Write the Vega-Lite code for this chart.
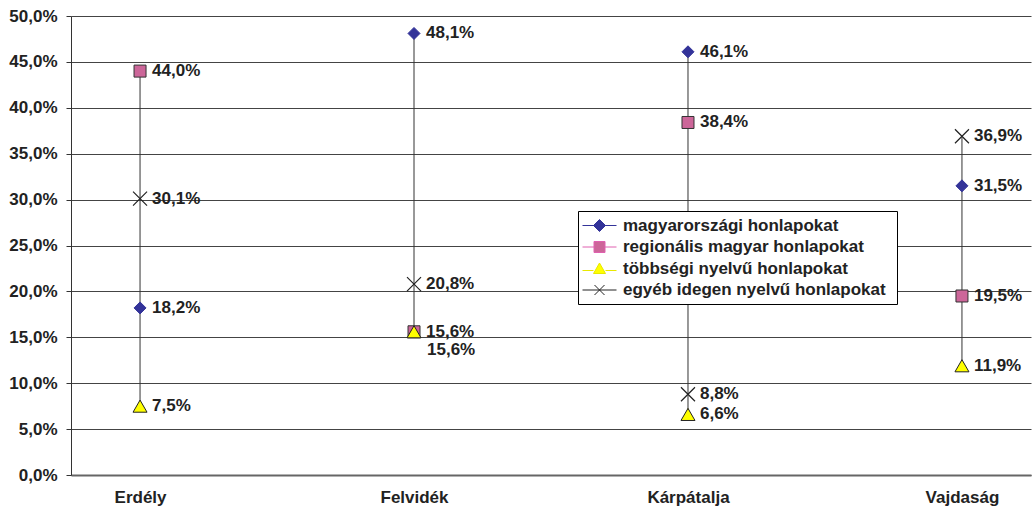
{
  "$schema": "https://vega.github.io/schema/vega-lite/v6.json",
  "width": 960,
  "height": 459,
  "autosize": {"type": "none"},
  "padding": {"left": 71, "top": 16, "right": 1, "bottom": 32},
  "background": "white",
  "config": {
    "locale": {"number": {"decimal": ",", "thousands": " ", "grouping": [3], "currency": ["", " Ft"]}},
    "view": {"stroke": null},
    "font": "Liberation Sans"
  },
  "data": {
    "values": [
      {"region": "Erdély", "series": "magyarországi honlapokat", "v": 0.182},
      {"region": "Erdély", "series": "regionális magyar honlapokat", "v": 0.440},
      {"region": "Erdély", "series": "többségi nyelvű honlapokat", "v": 0.075},
      {"region": "Erdély", "series": "egyéb idegen nyelvű  honlapokat", "v": 0.301},
      {"region": "Felvidék", "series": "magyarországi honlapokat", "v": 0.481},
      {"region": "Felvidék", "series": "regionális magyar honlapokat", "v": 0.156},
      {"region": "Felvidék", "series": "többségi nyelvű honlapokat", "v": 0.156},
      {"region": "Felvidék", "series": "egyéb idegen nyelvű  honlapokat", "v": 0.208},
      {"region": "Kárpátalja", "series": "magyarországi honlapokat", "v": 0.461},
      {"region": "Kárpátalja", "series": "regionális magyar honlapokat", "v": 0.384},
      {"region": "Kárpátalja", "series": "többségi nyelvű honlapokat", "v": 0.066},
      {"region": "Kárpátalja", "series": "egyéb idegen nyelvű  honlapokat", "v": 0.088},
      {"region": "Vajdaság", "series": "magyarországi honlapokat", "v": 0.315},
      {"region": "Vajdaság", "series": "regionális magyar honlapokat", "v": 0.195},
      {"region": "Vajdaság", "series": "többségi nyelvű honlapokat", "v": 0.119},
      {"region": "Vajdaság", "series": "egyéb idegen nyelvű  honlapokat", "v": 0.369}
    ]
  },
  "encoding": {
    "x": {
      "field": "region", "type": "nominal", "sort": null,
      "scale": {"type": "point", "padding": 0.252},
      "axis": {
        "title": null, "labelAngle": 0, "ticks": false, "grid": false,
        "domainColor": "#666", "domainWidth": 2,
        "labelFont": "Liberation Sans", "labelFontSize": 17, "labelFontWeight": "bold",
        "labelColor": "#222", "labelPadding": 14
      }
    },
    "y": {
      "field": "v", "type": "quantitative",
      "scale": {"domain": [0, 0.5], "nice": false, "zero": true},
      "axis": {
        "title": null, "format": ".1%",
        "values": [0, 0.05, 0.1, 0.15, 0.2, 0.25, 0.3, 0.35, 0.4, 0.45, 0.5],
        "grid": true, "gridColor": "#444", "gridWidth": 1,
        "domainColor": "#333", "domainWidth": 1,
        "tickColor": "#333", "tickSize": 5,
        "labelFont": "Liberation Sans", "labelFontSize": 17, "labelFontWeight": "bold",
        "labelColor": "#222", "labelPadding": 9
      }
    }
  },
  "layer": [
    {
      "transform": [
        {"aggregate": [{"op": "min", "field": "v", "as": "lo"}, {"op": "max", "field": "v", "as": "hi"}], "groupby": ["region"]}
      ],
      "mark": {"type": "rule", "color": "#333", "strokeWidth": 1},
      "encoding": {
        "y": {"field": "lo", "type": "quantitative"},
        "y2": {"field": "hi"}
      }
    },
    {
      "mark": {"type": "point", "opacity": 0, "size": 100},
      "encoding": {
        "shape": {
          "field": "series", "type": "nominal",
          "scale": {
            "domain": ["magyarországi honlapokat", "regionális magyar honlapokat", "többségi nyelvű honlapokat", "egyéb idegen nyelvű  honlapokat"],
            "range": [
              "M-3.4,0H3.4M0,-1.2L1.2,0L0,1.2L-1.2,0Z",
              "M-3.4,0H-1.1M1.1,0H3.4M-1.1,-1.1H1.1V1.1H-1.1Z",
              "M-3.4,0.4H-1.2M1.2,0.4H3.4M0,-1.1L1.2,1L-1.2,1Z",
              "M-3.4,0H3.4M-1,-1L1,1M-1,1L1,-1"
            ]
          },
          "legend": {
            "orient": "none", "legendX": 507, "legendY": 195, "title": null,
            "strokeColor": "#000", "fillColor": "#fff", "padding": 6,
            "labelFont": "Liberation Sans", "labelFontSize": 17, "labelFontWeight": "bold", "labelColor": "#222",
            "labelLimit": 400,
            "symbolSize": 100, "symbolStrokeWidth": 1, "symbolOffset": 7, "labelOffset": 15,
            "rowPadding": 3.5, "symbolOpacity": 1
          }
        },
        "fill": {
          "field": "series", "type": "nominal",
          "scale": {
            "domain": ["magyarországi honlapokat", "regionális magyar honlapokat", "többségi nyelvű honlapokat", "egyéb idegen nyelvű  honlapokat"],
            "range": ["#333399", "#CC6699", "#FFFF00", "transparent"]
          }
        },
        "stroke": {
          "field": "series", "type": "nominal",
          "scale": {
            "domain": ["magyarországi honlapokat", "regionális magyar honlapokat", "többségi nyelvű honlapokat", "egyéb idegen nyelvű  honlapokat"],
            "range": ["#333399", "#E060B0", "#E8E800", "#222"]
          }
        }
      }
    },
    {
      "transform": [{"filter": "datum.series === 'magyarországi honlapokat'"}],
      "mark": {"type": "point", "shape": "diamond", "size": 144, "filled": true, "fill": "#333399", "stroke": "#333399", "strokeWidth": 1, "opacity": 1}
    },
    {
      "transform": [{"filter": "datum.series === 'regionális magyar honlapokat'"}],
      "mark": {"type": "point", "shape": "square", "size": 144, "filled": true, "fill": "#CC6699", "stroke": "#333", "strokeWidth": 1, "opacity": 1}
    },
    {
      "transform": [{"filter": "datum.series === 'többségi nyelvű honlapokat'"}],
      "mark": {"type": "point", "shape": "triangle-up", "size": 196, "filled": true, "fill": "#FFFF00", "stroke": "#222", "strokeWidth": 1, "opacity": 1}
    },
    {
      "transform": [{"filter": "datum.series === 'egyéb idegen nyelvű  honlapokat'"}],
      "mark": {"type": "point", "shape": "M-1,-1L1,1M-1,1L1,-1", "size": 196, "filled": false, "stroke": "#222", "strokeWidth": 1.2, "opacity": 1}
    },
    {
      "transform": [{"filter": "!(datum.region === 'Felvidék' && datum.series === 'többségi nyelvű honlapokat')"}],
      "mark": {"type": "text", "align": "left", "baseline": "middle", "dx": 12, "font": "Liberation Sans", "fontSize": 17, "fontWeight": "bold", "color": "#222"},
      "encoding": {"text": {"field": "v", "type": "quantitative", "format": ".1%"}}
    },
    {
      "transform": [{"filter": "datum.region === 'Felvidék' && datum.series === 'többségi nyelvű honlapokat'"}],
      "mark": {"type": "text", "align": "left", "baseline": "middle", "dx": 13, "dy": 18, "font": "Liberation Sans", "fontSize": 17, "fontWeight": "bold", "color": "#222"},
      "encoding": {"text": {"field": "v", "type": "quantitative", "format": ".1%"}}
    }
  ]
}
